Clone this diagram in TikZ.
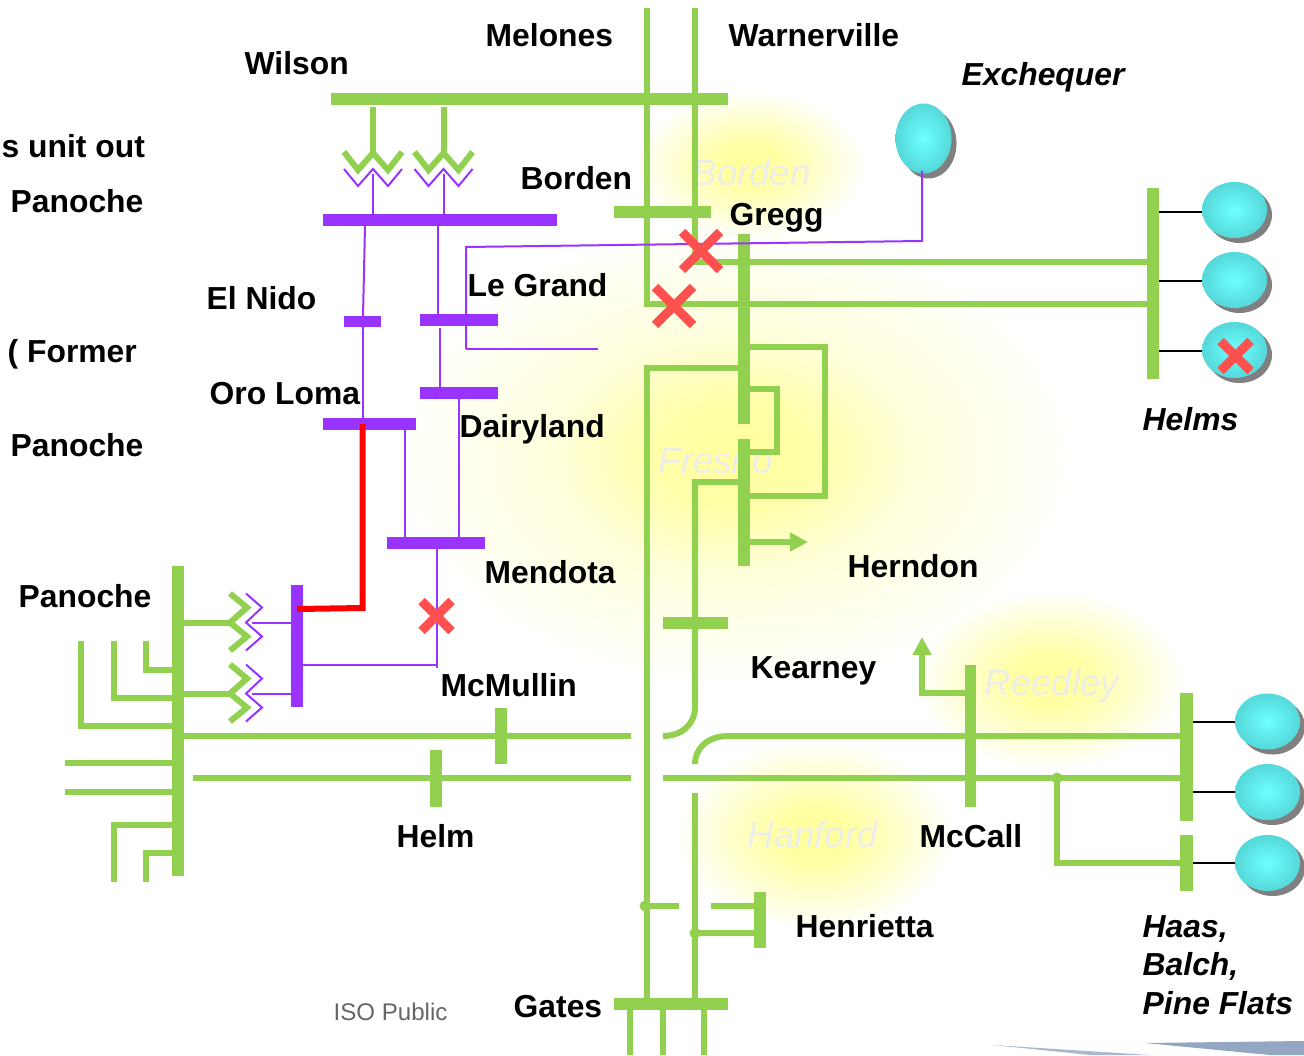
\documentclass[tikz,border=0pt]{standalone}
\usepackage{fontspec}
\setmainfont{Liberation Sans}
\usepackage{xcolor}
\usetikzlibrary{arrows.meta}
\definecolor{linegreen}{HTML}{92D050}
\definecolor{linepurple}{HTML}{9933FF}
\definecolor{tripred}{HTML}{FF5050}
\definecolor{glowyellow}{HTML}{FFFF9C}
\definecolor{ghostgray}{HTML}{EEEEE8}
\definecolor{unitcore}{HTML}{6EFFFF}
\definecolor{unitedge}{HTML}{55D8DA}
\definecolor{wedgeblue}{HTML}{93A6C2}
\pgfdeclareradialshading{glowspot}{\pgfpointorigin}{color(0bp)=(glowyellow); color(7bp)=(glowyellow!92!white); color(25bp)=(white); color(50bp)=(white)}
\pgfdeclareradialshading{widespot}{\pgfpointorigin}{color(0bp)=(glowyellow); color(6bp)=(glowyellow!85!white); color(13bp)=(glowyellow!35!white); color(25bp)=(white); color(50bp)=(white)}
\pgfdeclareradialshading{unitball}{\pgfpointorigin}{color(0bp)=(unitcore); color(25bp)=(unitedge); color(50bp)=(unitedge)}
\tikzset{
  station/.style={anchor=base west, inner sep=0pt, font=\fontsize{9.05pt}{11pt}\selectfont\bfseries},
  plant/.style={station, font=\fontsize{9.05pt}{11pt}\selectfont\bfseries\itshape},
  ghost/.style={anchor=base west, inner sep=0pt, text=ghostgray, font=\fontsize{10.4pt}{12pt}\selectfont\itshape},
  greenline/.style={draw=linegreen, line width=0.06cm},
  greenbus/.style={fill=linegreen},
  purplewire/.style={draw=linepurple, line width=0.02cm},
  purplebus/.style={fill=linepurple},
  tripmark/.style={draw=tripred, line width=0.09cm},
  unitlink/.style={draw=black, line width=0.02cm},
}
\begin{document}
\begin{tikzpicture}[x=0.01cm, y=-0.01cm]
  \useasboundingbox (0, 0) rectangle (1304, 1055);
  \clip (0, 0) rectangle (1304, 1055);

  % ── Glow behind the area names ──
  \shade[shading=widespot] (735, 455) ellipse (345 and 235);
  \shade[shading=glowspot] (750, 165) ellipse (115 and 75);
  \shade[shading=glowspot] (815, 835) ellipse (140 and 95);
  \shade[shading=glowspot] (1050, 680) ellipse (135 and 90);
  \node[ghost] (ghostborden) at (692, 186) {Borden};
  \node[ghost] (ghostfresno) at (658, 473) {Fresno};
  \node[ghost] (ghostreedley) at (984, 695) {Reedley};
  \node[ghost] (ghosthanford) at (747, 847) {Hanford};

  % ── Corner wedges ──
  \fill[wedgeblue!80] (993, 1045) -- (1150, 1055) -- (1090, 1055) -- cycle;
  \fill[wedgeblue] (1145, 1043) -- (1304, 1041) -- (1304, 1055) -- (1270, 1055) -- cycle;

  % ── Green network, top and Fresno ──
  \draw[greenline] (647, 8) -- (647, 304) -- (1150, 304);
  \draw[greenline] (695, 8) -- (695, 262) -- (1150, 262);
  \fill[greenbus] (331, 93) rectangle (728, 105);
  \fill[greenbus] (614, 206) rectangle (711, 218);
  \fill[greenbus] (738, 234) rectangle (750, 424);
  \fill[greenbus] (738, 439) rectangle (750, 566);
  \fill[greenbus] (1147, 188) rectangle (1159, 379);
  \draw[greenline] (750, 347) -- (825, 347) -- (825, 496) -- (750, 496);
  \draw[greenline] (750, 389) -- (777, 389) -- (777, 452) -- (750, 452);
  \draw[greenline] (738, 368) -- (647, 368) -- (647, 1000);
  \draw[greenline] (738, 482) -- (695, 482) -- (695, 707)
    .. controls (695, 724) and (682, 736) .. (663, 736);
  \fill[greenbus] (663, 617) rectangle (728, 629);
  \draw[greenline, -{Triangle[length=0.18cm, width=0.18cm]}] (750, 542) -- (808, 542);

  % ── Green network, south ──
  \draw[greenline] (184, 736) -- (631, 736);
  \draw[greenline] (193, 778) -- (631, 778);
  \fill[greenbus] (495, 708) rectangle (507, 764);
  \fill[greenbus] (430, 750) rectangle (442, 807);
  \draw[greenline] (695, 764) .. controls (695, 748) and (708, 736) .. (728, 736) -- (1182, 736);
  \draw[greenline] (663, 778) -- (1182, 778);
  \draw[greenline] (695, 793) -- (695, 1000);
  \fill[greenbus] (965, 665) rectangle (976, 807);
  \draw[greenline, -{Triangle[length=0.18cm, width=0.18cm]}] (966, 693) -- (922, 693) -- (922, 637);
  \fill[greenbus] (1180, 693) rectangle (1193, 821);
  \fill[greenbus] (1180, 835) rectangle (1193, 891);
  \fill[linegreen] (1057, 778) circle (5.5);
  \draw[greenline] (1057, 778) -- (1057, 863) -- (1182, 863);
  \fill[greenbus] (754, 892) rectangle (766, 948);
  \fill[linegreen] (645, 906) circle (5.5);
  \draw[greenline] (645, 906) -- (679, 906);
  \draw[greenline] (711, 906) -- (756, 906);
  \fill[linegreen] (695, 933) circle (5.5);
  \draw[greenline] (695, 933) -- (756, 933);
  \fill[greenbus] (614, 998) rectangle (728, 1010);
  \foreach \x in {630, 663, 704} {
    \draw[greenline] (\x, 1008) -- (\x, 1055);
  }

  % ── Panoche bus and its stubs ──
  \fill[greenbus] (172, 566) rectangle (184, 876);
  \draw[greenline] (146, 641) -- (146, 670) -- (174, 670);
  \draw[greenline] (114, 641) -- (114, 698) -- (174, 698);
  \draw[greenline] (81, 641) -- (81, 726) -- (174, 726);
  \draw[greenline] (65, 763) -- (174, 763);
  \draw[greenline] (65, 792) -- (174, 792);
  \draw[greenline] (114, 882) -- (114, 825) -- (174, 825);
  \draw[greenline] (146, 882) -- (146, 853) -- (174, 853);

  % ── Transformers at Wilson ──
  \foreach \x in {373, 443.5} {
    \draw[greenline] (\x, 107) -- (\x, 155);
    \draw[greenline] (\x-29, 152) -- (\x-15, 170) -- (\x, 153) -- (\x+15, 170) -- (\x+29, 152);
    \draw[purplewire] (\x-29, 169) -- (\x-15, 186) -- (\x, 169) -- (\x+15, 186) -- (\x+29, 169);
    \draw[purplewire] (\x, 174) -- (\x, 214);
  }

  % ── Transformers at Panoche ──
  \foreach \y in {622.5, 693.5} {
    \draw[greenline] (184, \y) -- (232, \y);
    \draw[greenline] (230, \y-29) -- (247, \y-15) -- (230, \y) -- (247, \y+14) -- (230, \y+28);
    \draw[purplewire] (246, \y-29) -- (262, \y-15) -- (246, \y) -- (262, \y+14) -- (246, \y+28);
    \draw[purplewire] (252, \y) -- (291, \y);
  }

  % ── Purple network ──
  \fill[purplebus] (323, 214) rectangle (557, 226);
  \fill[purplebus] (344, 316) rectangle (381, 327);
  \fill[purplebus] (420, 314) rectangle (498, 326);
  \fill[purplebus] (420, 387) rectangle (498, 399);
  \fill[purplebus] (323, 418) rectangle (416, 430);
  \fill[purplebus] (387, 537) rectangle (485, 549);
  \fill[purplebus] (291, 585) rectangle (303, 707);
  \draw[purplewire] (365, 226) -- (363, 316);
  \draw[purplewire] (363, 327) -- (363, 418);
  \draw[purplewire] (438, 226) -- (438, 314);
  \draw[purplewire] (440, 328) -- (440, 387);
  \draw[purplewire] (405, 430) -- (405, 537);
  \draw[purplewire] (459, 399) -- (459, 537);
  \draw[purplewire] (436.5, 549) -- (436.5, 668);
  \draw[purplewire] (303, 665) -- (438, 665);
  \draw[purplewire] (466, 349) -- (598, 349);
  \draw[draw=red, line width=0.06cm] (297, 609) -- (362.5, 608) -- (362.5, 424);

  % ── Generating units ──
  \foreach \y/\l in {210/212, 280/281, 350/351} {
    \draw[unitlink] (1159, \l) -- (1205, \l);
    \fill[gray] (1239.5, \y+5) ellipse (32.5 and 28);
    \shade[shading=unitball] (1234.5, \y) ellipse (32.5 and 28);
  }
  \foreach \y in {721.5, 792, 863} {
    \draw[unitlink] (1193, \y) -- (1240, \y);
    \fill[gray] (1272.5, \y+5) ellipse (32.5 and 28);
    \shade[shading=unitball] (1267.5, \y) ellipse (32.5 and 28);
  }
  \fill[gray] (928.5, 143.5) ellipse (28 and 35);
  \shade[shading=unitball] (923.5, 138.5) ellipse (28 and 35);
  \draw[purplewire] (922, 171) -- (922, 241) -- (466, 247) -- (466, 349);

  % ── Tripped elements ──
  \foreach \cx/\cy/\r in {701/251/19, 674/306/19, 436.5/616/15, 1235.5/356/15} {
    \draw[tripmark] (\cx-\r, \cy-\r) -- (\cx+\r, \cy+\r);
    \draw[tripmark] (\cx-\r, \cy+\r) -- (\cx+\r, \cy-\r);
  }

  % ── Station names ──
  \node[station] (wilson) at (244, 75) {Wilson};
  \node[station] (melones) at (485, 47) {Melones};
  \node[station] (warnerville) at (728, 47) {Warnerville};
  \node[plant] (exchequer) at (961, 86) {Exchequer};
  \node[station] (unitout) at (1, 158) {s unit out};
  \node[station] (panochea) at (10, 213) {Panoche};
  \node[station] (borden) at (520, 190) {Borden};
  \node[station] (gregg) at (729, 226) {Gregg};
  \node[station] (legrand) at (467, 297) {Le Grand};
  \node[station] (elnido) at (206, 310) {El Nido};
  \node[station] (former) at (7, 362) {( Former};
  \node[station] (oroloma) at (209, 404) {Oro Loma};
  \node[station] (panocheb) at (10, 456) {Panoche};
  \node[station] (dairyland) at (459, 437) {Dairyland};
  \node[station] (mendota) at (484, 583) {Mendota};
  \node[station] (panochec) at (18, 607) {Panoche};
  \node[station] (mcmullin) at (440, 696) {McMullin};
  \node[station] (herndon) at (847, 577) {Herndon};
  \node[station] (kearney) at (750, 678) {Kearney};
  \node[station] (helm) at (396, 847) {Helm};
  \node[station] (mccall) at (919, 847) {McCall};
  \node[station] (henrietta) at (795, 937) {Henrietta};
  \node[station] (gates) at (513, 1017) {Gates};
  \node[plant] (helms) at (1142, 430) {Helms};
  \node[plant] (haas) at (1142, 937) {Haas,};
  \node[plant] (balch) at (1142, 975) {Balch,};
  \node[plant] (pineflats) at (1142, 1014) {Pine Flats};
  \node[anchor=base west, inner sep=0pt, text=black!60, font=\fontsize{6.85pt}{8pt}\selectfont] (isopublic) at (333, 1020) {ISO Public};
\end{tikzpicture}
\end{document}
